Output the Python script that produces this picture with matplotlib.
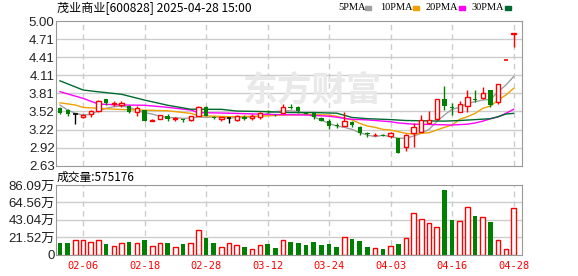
""" K-line chart of 茂业商业 600828 with moving averages and volume panel """

import matplotlib
matplotlib.use('Agg')
import matplotlib.pyplot as plt
from matplotlib.patches import Rectangle

plt.rcParams['font.family'] = ['Liberation Sans', 'Noto Sans CJK SC']

## data
dates = ['01-24', '01-27', '02-05', '02-06', '02-07', '02-10', '02-11', '02-12',
         '02-13', '02-14', '02-17', '02-18', '02-19', '02-20', '02-21', '02-24',
         '02-25', '02-26', '02-27', '02-28', '03-03', '03-04', '03-05', '03-06',
         '03-07', '03-10', '03-11', '03-12', '03-13', '03-14', '03-17', '03-18',
         '03-19', '03-20', '03-21', '03-24', '03-25', '03-26', '03-27', '03-28',
         '03-31', '04-01', '04-02', '04-03', '04-07', '04-08', '04-09', '04-10',
         '04-11', '04-14', '04-15', '04-16', '04-17', '04-18', '04-21', '04-22',
         '04-23', '04-24', '04-25', '04-28']

opens = [3.57, 3.54, 3.48, 3.43, 3.48, 3.52, 3.72, 3.64, 3.63, 3.60,
         3.51, 3.54, 3.37, 3.40, 3.44, 3.39, 3.39, 3.38, 3.45, 3.585,
         3.43, 3.39, 3.415, 3.38, 3.43, 3.41, 3.42, 3.52, 3.465, 3.50,
         3.59, 3.595, 3.50, 3.49, 3.41, 3.37, 3.29, 3.285, 3.35, 3.26,
         3.16, 3.125, 3.14, 3.115, 3.08, 2.93, 3.16, 3.19, 3.33, 3.39,
         3.73, 3.59, 3.515, 3.61, 3.72, 3.735, 3.87, 3.68, 4.36, 4.79]
closes = [3.50, 3.47, 3.48, 3.46, 3.52, 3.69, 3.65, 3.66, 3.66, 3.51,
          3.575, 3.37, 3.38, 3.455, 3.40, 3.41, 3.38, 3.44, 3.585, 3.45,
          3.41, 3.42, 3.415, 3.45, 3.40, 3.445, 3.50, 3.51, 3.455, 3.585,
          3.575, 3.525, 3.48, 3.42, 3.37, 3.285, 3.28, 3.37, 3.30, 3.16,
          3.145, 3.135, 3.12, 3.16, 2.845, 3.13, 3.26, 3.38, 3.38, 3.72,
          3.61, 3.58, 3.635, 3.76, 3.71, 3.815, 3.63, 3.96, 4.36, 4.80]
highs = [3.59, 3.56, 3.48, 3.47, 3.54, 3.70, 3.72, 3.69, 3.685, 3.62,
         3.60, 3.55, 3.39, 3.46, 3.47, 3.43, 3.40, 3.45, 3.61, 3.60,
         3.44, 3.425, 3.415, 3.46, 3.46, 3.47, 3.51, 3.54, 3.47, 3.64,
         3.64, 3.60, 3.51, 3.50, 3.42, 3.39, 3.325, 3.515, 3.37, 3.28,
         3.19, 3.17, 3.15, 3.175, 3.08, 3.15, 3.33, 3.46, 3.53, 3.72,
         3.935, 3.65, 3.69, 3.87, 3.87, 3.925, 3.87, 3.96, 4.36, 4.80]
lows = [3.47, 3.45, 3.32, 3.41, 3.42, 3.51, 3.63, 3.60, 3.59, 3.50,
        3.44, 3.36, 3.36, 3.39, 3.36, 3.37, 3.34, 3.37, 3.44, 3.44,
        3.40, 3.37, 3.33, 3.37, 3.38, 3.38, 3.40, 3.49, 3.44, 3.50,
        3.555, 3.50, 3.47, 3.40, 3.36, 3.23, 3.24, 3.285, 3.26, 3.14,
        3.095, 3.12, 3.11, 3.08, 2.84, 2.875, 2.94, 3.18, 3.32, 3.385,
        3.55, 3.46, 3.51, 3.515, 3.68, 3.73, 3.585, 3.64, 4.36, 4.58]

# volume in 万手
volumes = [13.7, 13.7, 17.4, 17.4, 15.3, 17.4, 12.4, 10.8, 14.5, 16.1,
           14.5, 17.4, 10.8, 13.7, 13.7, 9.9, 12.4, 13.7, 29.8, 19.9,
           13.7, 8.7, 13.7, 12.0, 9.9, 7.0, 12.0, 12.4, 7.5, 17.4,
           14.9, 13.7, 11.2, 14.9, 11.2, 12.4, 8.7, 21.9, 18.6, 16.6,
           9.9, 8.3, 6.2, 10.8, 12.4, 19.9, 50.9, 44.3, 38.5, 33.5,
           79.5, 42.2, 41.0, 58.4, 47.2, 45.9, 39.7, 17.4, 7.0, 57.5176]

ma5 = [3.624, 3.54, 3.49, 3.46, 3.47, 3.53, 3.57, 3.596, 3.607, 3.586,
       3.542, 3.498, 3.476, 3.44, 3.416, 3.416, 3.405, 3.41, 3.43, 3.42,
       3.43, 3.42, 3.41, 3.42, 3.42, 3.43, 3.44, 3.487, 3.515, 3.53,
       3.53, 3.515, 3.487, 3.43, 3.378, 3.323, 3.28, 3.258, 3.225, 3.17,
       3.132, 3.105, 3.13, 3.105, 3.08, 3.08, 3.116, 3.16, 3.225, 3.35,
       3.46, 3.553, 3.586, 3.65, 3.678, 3.705, 3.716, 3.842, 3.95, 4.088]

ma10_x = [0, 2, 3, 5, 8, 11, 14, 17, 18, 22, 26, 29, 32, 35, 36, 37, 38, 39,
          40, 41, 42, 43, 45, 46, 47, 48, 49, 50, 51, 52, 53, 54, 55, 56, 57,
          58, 59]
ma10 = [3.66, 3.624, 3.585, 3.57, 3.55, 3.54, 3.53, 3.487, 3.45, 3.433,
        3.44, 3.46, 3.47, 3.46, 3.44, 3.405, 3.38, 3.323, 3.28, 3.258,
        3.225, 3.214, 3.16, 3.148, 3.16, 3.17, 3.214, 3.258, 3.296, 3.39,
        3.433, 3.487, 3.569, 3.607, 3.705, 3.787, 3.897]

ma20_x = [0, 3, 5, 8, 11, 14, 17, 18, 22, 27, 32, 35, 38, 40, 43, 44, 46,
          50, 51, 53, 54, 55, 56, 57, 58, 59]
ma20 = [3.842, 3.733, 3.64, 3.624, 3.62, 3.586, 3.542, 3.50, 3.49, 3.47,
        3.46, 3.44, 3.39, 3.38, 3.35, 3.33, 3.31, 3.30, 3.296, 3.31,
        3.33, 3.36, 3.40, 3.43, 3.487, 3.553]

ma30_x = [0, 3, 5, 8, 11, 14, 17, 21, 23, 27, 30, 33, 36, 38, 40, 43, 45,
          50, 52, 54, 56, 57, 58, 59]
ma30 = [4.02, 3.87, 3.84, 3.80, 3.705, 3.62, 3.555, 3.553, 3.525, 3.515,
        3.50, 3.50, 3.49, 3.42, 3.40, 3.385, 3.37, 3.36, 3.37, 3.385,
        3.40, 3.433, 3.476, 3.487]

price_ticks = [2.63, 2.92, 3.22, 3.52, 3.81, 4.11, 4.41, 4.71, 5.00]
vol_ticks = ['0', '21.52万', '43.04万', '64.56万', '86.09万']
vol_max = 86.09


### colours
red = '#ff0000'
green = '#008000'
grid_c = '#cccccc'
frame_c = '#999999'
ma_colors = ['#a0a0a0', '#f0a000', '#ff00ff', '#006a30']

W, H = 578, 276
fig = plt.figure(figsize=(W / 100, H / 100), dpi=100)
ax = fig.add_axes([56 / W, 1 - 165.7 / H, 466 / W, 144.7 / H])
axv = fig.add_axes([56 / W, 1 - 254.5 / H, 466 / W, 69.5 / H])

n = len(closes)
tick_idx = list(range(3, n, 8))

for a in (ax, axv):
    a.set_xlim(-0.52, 60.1)
    for s in a.spines.values():
        s.set_color(frame_c)
    a.tick_params(length=0, labelsize=9.5, colors='#222222', pad=1)
    for k in tick_idx:
        a.axvline(k, color=grid_c, lw=1, ls=(0, (4, 3)), zorder=0)

# price axis
ax.set_ylim(price_ticks[0], price_ticks[-1])
step = (price_ticks[-1] - price_ticks[0]) / (len(price_ticks) - 1)
ypos = [price_ticks[0] + k * step for k in range(len(price_ticks))]
ax.set_yticks(ypos)
ax.set_yticklabels(['%.2f' % v for v in price_ticks])
for y in ypos[1:-1]:
    ax.axhline(y, color=grid_c, lw=1, zorder=0)
ax.set_xticks([])

# watermark
ax.text(32.8, 3.87, '东方财富', fontsize=25, color='#e9e9e9', ha='center',
        va='center', family='Noto Sans CJK SC', weight='bold', zorder=0)

# moving averages
ax.plot(range(n), ma5, color=ma_colors[0], lw=1, zorder=1)
ax.plot(ma10_x, ma10, color=ma_colors[1], lw=1, zorder=1)
ax.plot(ma20_x, ma20, color=ma_colors[2], lw=1, zorder=1)
ax.plot(ma30_x, ma30, color=ma_colors[3], lw=1, zorder=1)

# candles
w = 0.56
vol_colors = []
for i in range(n):
    o, c, h, l = opens[i], closes[i], highs[i], lows[i]
    if c == o and h > l:
        col = 'black'
    elif c >= o:
        col = red
    else:
        col = green
    vol_colors.append(green if c < o else red)
    if c > o:
        ax.vlines(i, l, o, color=col, lw=1, zorder=2)
        ax.vlines(i, c, h, color=col, lw=1, zorder=2)
        ax.bar(i, c - o, w, bottom=o, facecolor='white', edgecolor=col,
               lw=1, zorder=3)
    elif c < o:
        ax.vlines(i, l, h, color=col, lw=1, zorder=2)
        ax.bar(i, o - c, w, bottom=c, color=col, lw=0, zorder=3)
    else:
        ax.vlines(i, l, h, color=col, lw=1, zorder=2)
        ax.hlines(o, i - w / 2, i + w / 2, color=col, lw=1.2, zorder=3)

# volume panel
axv.set_ylim(0, vol_max)
axv.set_yticks([vol_max * k / 4 for k in range(5)])
axv.set_yticklabels(vol_ticks)
for k in range(1, 4):
    axv.axhline(vol_max * k / 4, color=grid_c, lw=1, zorder=0)
for i in range(n):
    if vol_colors[i] == red:
        axv.bar(i, volumes[i], 0.6, facecolor='white', edgecolor=red, lw=1,
                zorder=2)
    else:
        axv.bar(i, volumes[i], 0.6, color=green, lw=0, zorder=2)
axv.set_xticks(tick_idx)
axv.set_xticklabels([dates[k] for k in tick_idx], color=red,
                    family='DejaVu Sans Mono', fontsize=7.5)
axv.tick_params(axis='x', pad=5)

# titles and legend
fig.text(57 / W, 1 - 8 / H, '茂业商业[600828] 2025-04-28 15:00',
         family='Noto Sans CJK SC', fontsize=8.7, va='center')
fig.text(57 / W, 1 - 177 / H, '成交量:575176', family='Noto Sans CJK SC',
         fontsize=8.5, va='center')

legend_x = [338, 380, 426, 472]
legend_sq = [365, 413, 459, 505]
for k, name in enumerate(['5PMA', '10PMA', '20PMA', '30PMA']):
    fig.text(legend_x[k] / W, 1 - 8 / H, name, family='Liberation Serif',
             fontsize=7.5, va='center')
    fig.patches.append(Rectangle((legend_sq[k] / W, 1 - 9.5 / H), 6 / W, 4 / H,
                                 color=ma_colors[k], transform=fig.transFigure))

fig.savefig('out.png', dpi=100)
